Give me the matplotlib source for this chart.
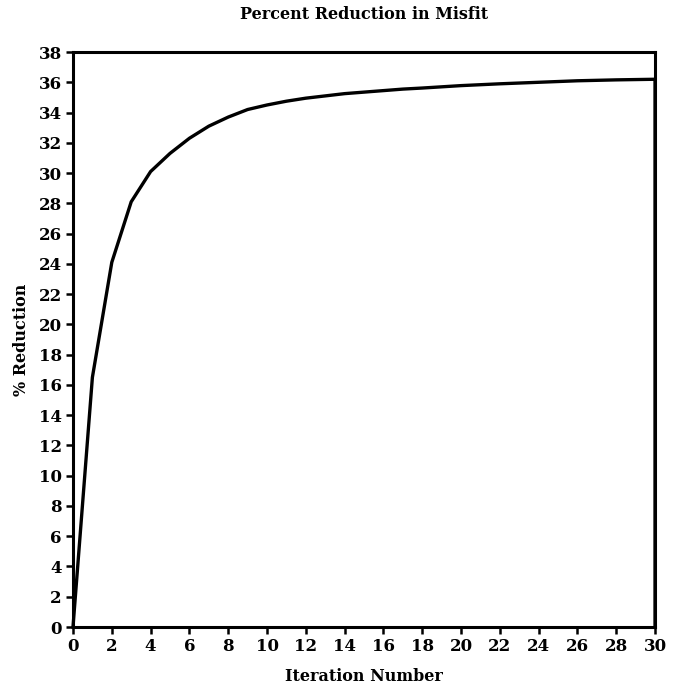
import matplotlib
matplotlib.use("Agg")
import matplotlib.pyplot as plt

iterations = [0, 1, 2, 3, 4, 5, 6, 7, 8, 9, 10, 11, 12, 13, 14, 15, 16, 17, 18, 19, 20,
              21, 22, 23, 24, 25, 26, 27, 28, 29, 30, 30]
reduction = [0.0, 16.5, 24.1, 28.1, 30.1, 31.3, 32.3, 33.1, 33.7, 34.2, 34.5, 34.75, 34.95,
             35.1, 35.25, 35.35, 35.45, 35.55, 35.62, 35.7, 35.78, 35.84, 35.9, 35.95,
             36.0, 36.05, 36.1, 36.13, 36.16, 36.18, 36.2, 0.0]
xticks = list(range(0, 31, 2))
yticks = list(range(0, 39, 2))

plt.rcParams['font.family'] = ['DejaVu Serif']
plt.rcParams['font.weight'] = 'bold'

fig = plt.figure(figsize=(6.79, 6.90), dpi=100)
ax = fig.add_axes([0.1075, 0.0913, 0.8572, 0.8333])
ax.plot(iterations, reduction, color='black', lw=2.4, clip_on=False, solid_joinstyle='miter')
ax.set_xlim(0, 30)
ax.set_ylim(0, 38)
ax.set_xticks(xticks)
ax.set_yticks(yticks)
ax.tick_params(axis='both', labelsize=12, length=5, width=1.8, direction='out', pad=3)
for lab in ax.get_xticklabels() + ax.get_yticklabels():
    lab.set_fontweight('bold')
for s in ax.spines.values():
    s.set_linewidth(2.2)
ax.set_title('Percent Reduction in Misfit', fontsize=11.5, fontweight='bold', pad=23.5)
ax.set_xlabel('Iteration Number', fontsize=11.5, fontweight='bold', labelpad=9.5)
ax.set_ylabel('% Reduction', fontsize=11.5, fontweight='bold', labelpad=6)
fig.savefig('out.png', dpi=100)
